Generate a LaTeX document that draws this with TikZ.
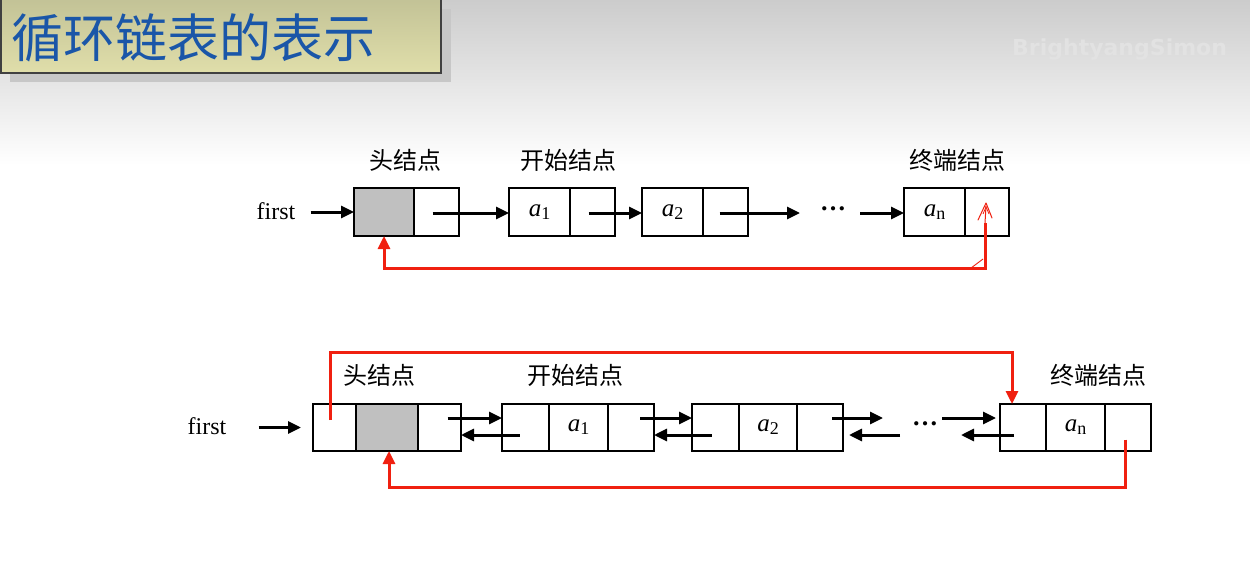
\documentclass[tikz,border=0pt]{standalone}
\usepackage{fontspec}
\setmainfont{Liberation Serif}
\newfontfamily\cjk{Noto Sans CJK SC}
\newfontfamily\wmfont{DejaVu Sans}
\usetikzlibrary{arrows.meta}
\definecolor{titleblue}{HTML}{1A56A8}
\definecolor{boxtop}{HTML}{C2C296}
\definecolor{boxbot}{HTML}{E0DEAA}
\definecolor{bgtop}{HTML}{CCCCCC}
\definecolor{wmcol}{HTML}{E2E2E2}
\definecolor{cellgray}{HTML}{C0C0C0}
\definecolor{redline}{HTML}{F02010}
\newcommand{\elem}[1]{{\fontsize{25}{28}\selectfont\itshape a}{\fontsize{18}{20}\selectfont\raisebox{-3pt}{#1}}}
\begin{document}
\begin{tikzpicture}[x=1pt,y=-1pt,
  cell/.style={draw=black, line width=2.8pt, minimum height=48pt, inner sep=0pt, outer sep=0pt, anchor=north west},
  gcell/.style={cell, fill=cellgray},
  arr/.style={line width=3pt, -{Triangle[length=13pt,width=12pt]}},
  redarr/.style={draw=redline, line width=3pt, -{Triangle[length=13pt,width=12pt]}},
  lbl/.style={font=\cjk\fontsize{24}{28}\selectfont, inner sep=0pt},
  txt/.style={font=\fontsize{24}{28}\selectfont, inner sep=0pt},
  dots/.style={font=\fontsize{26}{28}\selectfont\bfseries, inner sep=0pt}]
\useasboundingbox (0,0) rectangle (1250,583);
% background
\fill[white] (0,0) rectangle (1250,583);
\shade[top color=bgtop, bottom color=white] (0,0) rectangle (1250,165);
% watermark
\node[font=\wmfont\bfseries\fontsize{22}{26}\selectfont, text=wmcol, anchor=west, inner sep=0pt] (wm) at (1012,50) {BrightyangSimon};
% title
\fill[black!22] (10,9) rectangle (451,82);
\shade[top color=boxtop, bottom color=boxbot, draw=black!75, line width=1.5pt] (1,-2) rectangle (441,73);
\node[font=\cjk\fontsize{52}{58}\selectfont, text=titleblue, anchor=west, inner sep=0pt] (title) at (11,38) {循环链表的表示};

% ---------- top list ----------
\node[txt] (first1) at (276,211) {first};
\node[gcell, minimum width=60pt] (t0d) at (354,188) {};
\node[cell, minimum width=45pt] (t0p) at (414,188) {};
\node[cell, minimum width=61pt] (t1d) at (509,188) {\elem{1}};
\node[cell, minimum width=45pt] (t1p) at (570,188) {};
\node[cell, minimum width=61pt] (t2d) at (642,188) {\elem{2}};
\node[cell, minimum width=45pt] (t2p) at (703,188) {};
\node[cell, minimum width=61pt] (tnd) at (904,188) {\elem{n}};
\node[cell, minimum width=44pt] (tnp) at (965,188) {};
\node[dots] (tdots) at (833,212) {\raisebox{0.25em}{…}};
\node[lbl] (tl0) at (405,160) {头结点};
\node[lbl] (tl1) at (568,160) {开始结点};
\node[lbl] (tln) at (957,160) {终端结点};
\coordinate (ta) at (800,213);
\coordinate (tb) at (860,213);
\coordinate (try) at (0,268);
\draw[arr] ([xshift=15pt]first1.east |- t0d.west) -- (t0d.west);
\draw[arr] ([xshift=-4pt,yshift=-1pt]t0p.center) -- ([yshift=-1pt]t1d.west);
\draw[arr] ([xshift=-4pt,yshift=-1pt]t1p.center) -- ([yshift=-1pt]t2d.west);
\draw[arr] ([xshift=-6pt,yshift=-1pt]t2p.center) -- (ta);
\draw[arr] (tb) -- (tnd.west |- tb);
\draw[redarr] ([shift={(-2pt,-11pt)}]tnp.center) -- ([xshift=-2pt]tnp.center |- try) -- (t0d.south |- try) -- (t0d.south);
% hand-drawn annotation
\draw[draw=redline, line width=1pt] ([shift={(-2pt,-11pt)}]tnp.center) -- ([shift={(-1pt,6pt)}]tnp.center);
\draw[draw=redline, line width=1pt, line cap=round, line join=round]
  ([shift={(-9pt,-8pt)}]tnp.center) -- ([shift={(-1pt,9pt)}]tnp.center) -- ([shift={(5pt,-6pt)}]tnp.center);
\draw[draw=redline, line width=0.8pt] ([shift={(-4pt,-2pt)}]tnp.center) -- ([shift={(-1pt,5pt)}]tnp.center) -- ([shift={(2pt,-2pt)}]tnp.center);
\draw[draw=redline, line width=0.9pt] ([xshift=-16pt]tnp.center |- try) -- ([shift={(-4pt,9pt)}]tnp.center |- try);

% ---------- bottom list ----------
\node[txt] (first2) at (207,426) {first};
\node[cell, minimum height=47pt, minimum width=43pt] (b0l) at (313,404) {};
\node[gcell, minimum height=47pt, minimum width=62pt] (b0d) at (356,404) {};
\node[cell, minimum height=47pt, minimum width=43pt] (b0r) at (418,404) {};
\node[cell, minimum height=47pt, minimum width=47pt] (b1l) at (502,404) {};
\node[cell, minimum height=47pt, minimum width=59pt] (b1d) at (549,404) {\elem{1}};
\node[cell, minimum height=47pt, minimum width=46pt] (b1r) at (608,404) {};
\node[cell, minimum height=47pt, minimum width=47pt] (b2l) at (692,404) {};
\node[cell, minimum height=47pt, minimum width=58pt] (b2d) at (739,404) {\elem{2}};
\node[cell, minimum height=47pt, minimum width=46pt] (b2r) at (797,404) {};
\node[cell, minimum height=47pt, minimum width=46pt] (bnl) at (1000,404) {};
\node[cell, minimum height=47pt, minimum width=59pt] (bnd) at (1046,404) {\elem{n}};
\node[cell, minimum height=47pt, minimum width=46pt] (bnr) at (1105,404) {};
\node[dots] (bdots) at (925,427) {\raisebox{0.25em}{…}};
\node[lbl] (bl0) at (379,375) {头结点};
\node[lbl] (bl1) at (575,375) {开始结点};
\node[lbl] (bln) at (1098,375) {终端结点};
\coordinate (bf1) at (883,418);
\coordinate (bb1) at (900,435);
\coordinate (bf2) at (942,418);
\coordinate (bb2) at (961,435);
\coordinate (rtop) at (0,352);
\coordinate (rbot) at (0,487);
\draw[arr] ([xshift=32pt]first2.east |- b0l.west) -- ([xshift=-12pt]b0l.west);
% head <-> a1
\draw[arr] ([shift={(8pt,9.5pt)}]b0r.center) -- ([yshift=9.5pt]b1l.west);
\draw[arr] ([shift={(-6pt,-7.5pt)}]b1l.center) -- ([yshift=-7.5pt]b0r.east);
% a1 <-> a2
\draw[arr] ([shift={(9pt,9.5pt)}]b1r.center) -- ([yshift=9.5pt]b2l.west);
\draw[arr] ([shift={(-4pt,-7.5pt)}]b2l.center) -- ([yshift=-7.5pt]b1r.east);
% a2 <-> dots
\draw[arr] ([shift={(12pt,9.5pt)}]b2r.center) -- (bf1);
\draw[arr] (bb1) -- ([xshift=6pt]b2r.east |- bb1);
% dots <-> an
\draw[arr] (bf2) -- ([xshift=-4pt]bnl.west |- bf2);
\draw[arr] ([shift={(-9pt,-7.5pt)}]bnl.center) -- (bb2);
% red links
\draw[redarr] ([shift={(-4pt,7.5pt)}]b0l.center) -- ([xshift=-4pt]b0l.center |- rtop) -- ([xshift=-11pt]bnl.north |- rtop) -- ([xshift=-11pt]bnl.north);
\draw[redarr] ([shift={(-3pt,-12pt)}]bnr.center) -- ([xshift=-3pt]bnr.center |- rbot) -- ([xshift=2pt]b0d.south |- rbot) -- ([xshift=2pt]b0d.south);
\end{tikzpicture}
\end{document}
